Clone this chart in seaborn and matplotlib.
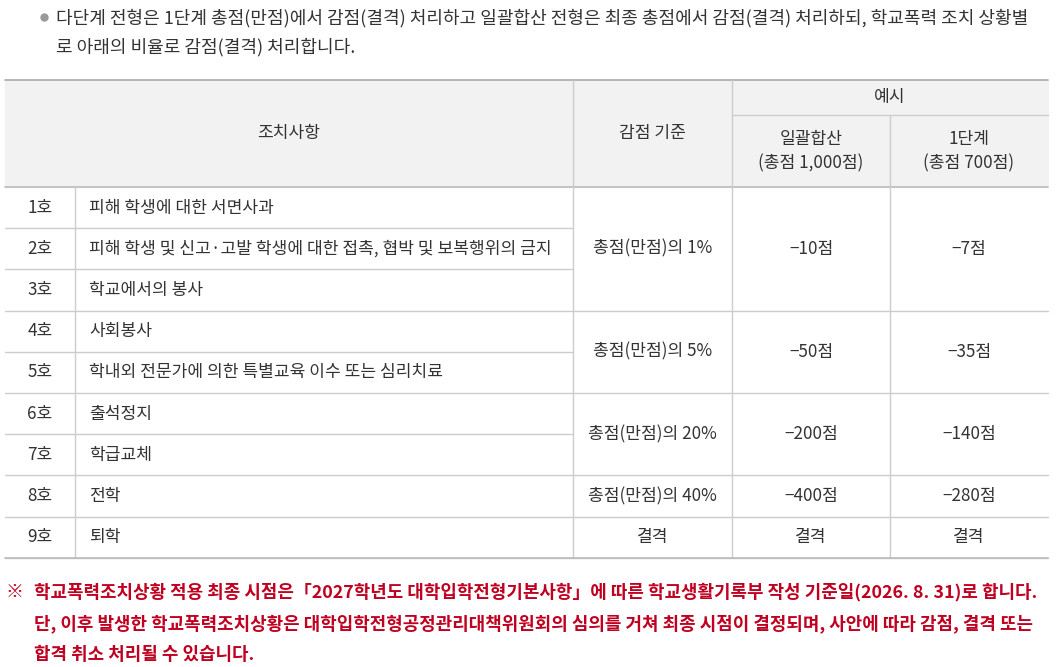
import matplotlib
matplotlib.use("Agg")
import matplotlib.pyplot as plt
import seaborn as sns

sns.set_theme(style="white")
plt.rcParams['font.family'] = ['Noto Sans CJK KR', 'DejaVu Sans']

codes = ["1호", "2호", "3호", "4호", "5호", "6호", "7호", "8호", "9호"]
measures = ["피해 학생에 대한 서면사과",
            "피해 학생 및 신고·고발 학생에 대한 접촉, 협박 및 보복행위의 금지",
            "학교에서의 봉사", "사회봉사",
            "학내외 전문가에 의한 특별교육 이수 또는 심리치료",
            "출석정지", "학급교체", "전학", "퇴학"]
groups = [(0, 3), (3, 5), (5, 7), (7, 8), (8, 9)]
criteria = ["총점(만점)의 1%", "총점(만점)의 5%", "총점(만점)의 20%", "총점(만점)의 40%", "결격"]
total_ex = ["−10점", "−50점", "−200점", "−400점", "결격"]
stage_ex = ["−7점", "−35점", "−140점", "−280점", "결격"]

W, H = 1056, 667
fig = plt.figure(figsize=(W / 100, H / 100), dpi=100)
ax = fig.add_axes([0, 0, 1, 1])
ax.set_xlim(0, W); ax.set_ylim(H, 0); ax.axis("off")

txt = "#333333"; line = "#cccccc"; red = "#c00020"
cols = [5, 75, 573, 732, 890, 1048]
top, hmid, hbot = 80, 115, 187
rh = 41.2
rows = [hbot + i * rh for i in range(10)]

# bullet
bf = 13.0
ax.plot(44, 17, marker="o", ms=5, color="#999999")
ax.text(56, 18, "다단계 전형은 1단계 총점(만점)에서 감점(결격) 처리하고 일괄합산 전형은 최종 총점에서 감점(결격) 처리하되, 학교폭력 조치 상황별",
        fontsize=bf, color=txt, va="center")
ax.text(56, 47, "로 아래의 비율로 감점(결격) 처리합니다.", fontsize=bf, color=txt, va="center")

# header
ax.add_patch(plt.Rectangle((cols[0], top), cols[-1] - cols[0], hbot - top, color="#f2f2f2", zorder=0))
ax.plot([cols[0], cols[-1]], [top, top], color="#aaaaaa", lw=1.2)
ax.plot([cols[0], cols[-1]], [hbot, hbot], color="#bbbbbb", lw=1.2)
ax.plot([cols[3], cols[-1]], [hmid, hmid], color=line, lw=1)
for x in cols[2:5]:
    ax.plot([x, x], [top if x != cols[4] else hmid, rows[-1]], color=line, lw=1)
ax.plot([cols[1], cols[1]], [hbot, rows[-1]], color=line, lw=1)
fs = 12.3
ax.text((cols[0] + cols[2]) / 2, 133, "조치사항", ha="center", va="center", fontsize=fs, color=txt)
ax.text((cols[2] + cols[3]) / 2, 133, "감점 기준", ha="center", va="center", fontsize=fs, color=txt)
ax.text((cols[3] + cols[5]) / 2, 97, "예시", ha="center", va="center", fontsize=fs, color=txt)
ax.text((cols[3] + cols[4]) / 2, 151, "일괄합산\n(총점 1,000점)", ha="center", va="center", fontsize=fs, color=txt, linespacing=1.45)
ax.text((cols[4] + cols[5]) / 2, 151, "1단계\n(총점 700점)", ha="center", va="center", fontsize=fs, color=txt, linespacing=1.45)

# body rows
for i, (c, m) in enumerate(zip(codes, measures)):
    yc = rows[i] + rh / 2
    ax.text((cols[0] + cols[1]) / 2, yc, c, ha="center", va="center", fontsize=fs, color=txt)
    ax.text(cols[1] + 14, yc, m, ha="left", va="center", fontsize=fs, color=txt)
    ax.plot([cols[0], cols[2]], [rows[i + 1]] * 2, color=line, lw=1)
for (a, b), cr, t1, t2 in zip(groups, criteria, total_ex, stage_ex):
    yc = (rows[a] + rows[b]) / 2
    ax.plot([cols[2], cols[5]], [rows[b]] * 2, color=line, lw=1)
    for k, s in enumerate([cr, t1, t2]):
        ax.text((cols[2 + k] + cols[3 + k]) / 2, yc, s, ha="center", va="center", fontsize=fs, color=txt)
ax.plot([cols[0], cols[5]], [rows[-1]] * 2, color="#bbbbbb", lw=1.2)

# note
nf = 12.9
ax.text(5, 592, "※", fontsize=nf, color=red, va="center", fontweight="bold")
ax.text(34, 592, "학교폭력조치상황 적용 최종 시점은「2027학년도 대학입학전형기본사항」에 따른 학교생활기록부 작성 기준일(2026. 8. 31)로 합니다.",
        fontsize=nf, color=red, va="center", fontweight="bold")
ax.text(34, 624, "단, 이후 발생한 학교폭력조치상황은 대학입학전형공정관리대책위원회의 심의를 거쳐 최종 시점이 결정되며, 사안에 따라 감점, 결격 또는",
        fontsize=nf, color=red, va="center", fontweight="bold")
ax.text(34, 655, "합격 취소 처리될 수 있습니다.", fontsize=nf, color=red, va="center", fontweight="bold")

fig.savefig("out.png", dpi=100)
